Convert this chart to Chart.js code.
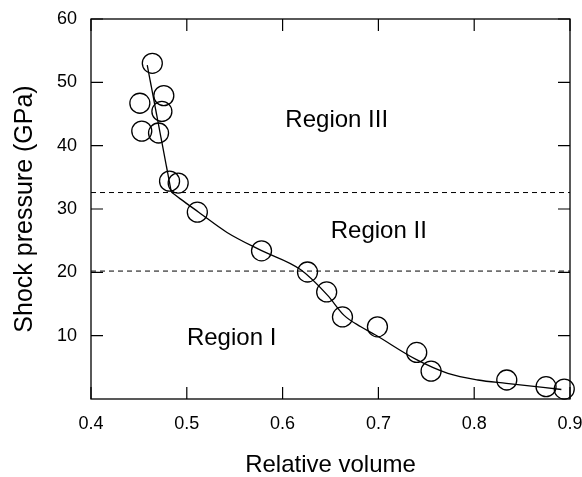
<!DOCTYPE html>
<html>
<head>
<meta charset="utf-8">
<script src="https://cdn.jsdelivr.net/npm/chart.js@4/dist/chart.umd.min.js"></script>
<style>
  html, body { margin: 0; padding: 0; background: #fff; }
  #wrap { width: 582px; height: 477px; }
</style>
</head>
<body>
<div id="wrap"><canvas id="c" width="582" height="477"></canvas></div>
<script>
// measured shock data (relative volume vs shock pressure)
const volData = [0.464, 0.476, 0.451, 0.474, 0.453, 0.4705, 0.482, 0.491, 0.511, 0.578, 0.626, 0.646, 0.6625, 0.699, 0.740, 0.755, 0.834, 0.875, 0.894];
const pressData = [53.0, 47.9, 46.7, 45.4, 42.3, 42.0, 34.4, 34.1, 29.5, 23.4, 20.05, 16.9, 12.96, 11.4, 7.35, 4.4, 3.0, 1.94, 1.57];

// fitted curve: steep part, then the smooth part
const volSteep = [0.4587, 0.4838];
const pressSteep = [52.7, 32.7];
const volFit = [0.4838, 0.4932, 0.5124, 0.542, 0.577, 0.619, 0.6468, 0.6642, 0.6817, 0.697, 0.7393, 0.7725, 0.8039, 0.8335, 0.891];
const pressFit = [32.7, 31.6, 29.5, 26.3, 23.5, 20.4, 16.4, 13.2, 11.4, 10.1, 6.25, 4.05, 3.0, 2.47, 1.5];

// region boundaries (GPa)
const boundaries = [32.6, 20.2];

// region labels (baseline positions)
const regionNames = ['Region III', 'Region II', 'Region I'];
const regionVol = [0.6565, 0.7004, 0.5468];
const regionPress = [43.0, 25.5, 8.5];

const xTicks = [0.4, 0.5, 0.6, 0.7, 0.8, 0.9];
const yTicks = [10, 20, 30, 40, 50, 60];

const FONT = '"Liberation Sans", Arial, Helvetica, sans-serif';

const datasets = [];
boundaries.forEach(b => {
  datasets.push({
    type: 'line',
    data: [{x: 0.4, y: b}, {x: 0.9, y: b}],
    borderColor: '#000',
    borderWidth: 1,
    borderDash: [5, 4],
    pointRadius: 0,
    fill: false
  });
});
datasets.push({
  type: 'line',
  data: volSteep.map((v, i) => ({x: v, y: pressSteep[i]})),
  borderColor: '#000',
  borderWidth: 1.3,
  pointRadius: 0,
  fill: false
});
datasets.push({
  type: 'line',
  data: volFit.map((v, i) => ({x: v, y: pressFit[i]})),
  borderColor: '#000',
  borderWidth: 1.3,
  pointRadius: 0,
  cubicInterpolationMode: 'monotone',
  fill: false
});
datasets.push({
  type: 'scatter',
  data: volData.map((v, i) => ({x: v, y: pressData[i]})),
  pointRadius: 10,
  pointBorderWidth: 1.3,
  pointBorderColor: '#000',
  pointBackgroundColor: 'rgba(0,0,0,0)',
  clip: false
});

// box, inward ticks and region text
const decor = {
  id: 'decor',
  afterDatasetsDraw(chart) {
    const {ctx, chartArea: a, scales: {x, y}} = chart;
    ctx.save();
    ctx.strokeStyle = '#000';
    ctx.lineWidth = 1.3;
    ctx.strokeRect(a.left, a.top, a.right - a.left, a.bottom - a.top);
    ctx.lineWidth = 1.2;
    ctx.beginPath();
    const tl = 12;
    xTicks.forEach(t => {
      const px = x.getPixelForValue(t);
      ctx.moveTo(px, a.bottom); ctx.lineTo(px, a.bottom - tl);
      ctx.moveTo(px, a.top); ctx.lineTo(px, a.top + tl);
    });
    yTicks.forEach(t => {
      const py = y.getPixelForValue(t);
      ctx.moveTo(a.left, py); ctx.lineTo(a.left + tl, py);
      ctx.moveTo(a.right, py); ctx.lineTo(a.right - tl, py);
    });
    ctx.stroke();
    ctx.fillStyle = '#000';
    ctx.font = '24px ' + FONT;
    ctx.textAlign = 'center';
    ctx.textBaseline = 'alphabetic';
    regionNames.forEach((n, i) => {
      ctx.fillText(n, x.getPixelForValue(regionVol[i]), y.getPixelForValue(regionPress[i]));
    });
    ctx.restore();
  }
};

new Chart(document.getElementById('c'), {
  data: { datasets },
  options: {
    responsive: false,
    animation: false,
    layout: { padding: { left: 0, right: 12, top: 19, bottom: 0 } },
    plugins: { legend: { display: false }, tooltip: { enabled: false } },
    scales: {
      x: {
        type: 'linear',
        min: 0.4, max: 0.9,
        grid: { display: false, drawTicks: false },
        border: { display: false },
        afterFit(s) { s.height = 78; s.paddingLeft = 0; s.paddingRight = 0; },
        afterBuildTicks(s) { s.ticks = xTicks.map(v => ({value: v})); },
        ticks: {
          padding: 14,
          color: '#000',
          font: { family: FONT, size: 18 },
          maxRotation: 0,
          autoSkip: false,
          callback: v => v.toFixed(1)
        },
        title: {
          display: true,
          text: 'Relative volume',
          color: '#000',
          font: { family: FONT, size: 24, lineHeight: 1 },
          padding: { top: 0, bottom: 0 }
        }
      },
      y: {
        type: 'linear',
        min: 0, max: 60,
        grid: { display: false, drawTicks: false },
        border: { display: false },
        afterFit(s) { s.width = 91; s.paddingTop = 0; s.paddingBottom = 0; },
        afterBuildTicks(s) { s.ticks = yTicks.map(v => ({value: v})); },
        ticks: {
          padding: 14,
          color: '#000',
          font: { family: FONT, size: 18 },
          autoSkip: false,
          callback: v => String(v)
        },
        title: {
          display: true,
          text: 'Shock pressure (GPa)',
          color: '#000',
          font: { family: FONT, size: 25 },
          padding: { top: 10, bottom: 0 }
        }
      }
    }
  },
  plugins: [decor]
});
</script>
</body>
</html>
